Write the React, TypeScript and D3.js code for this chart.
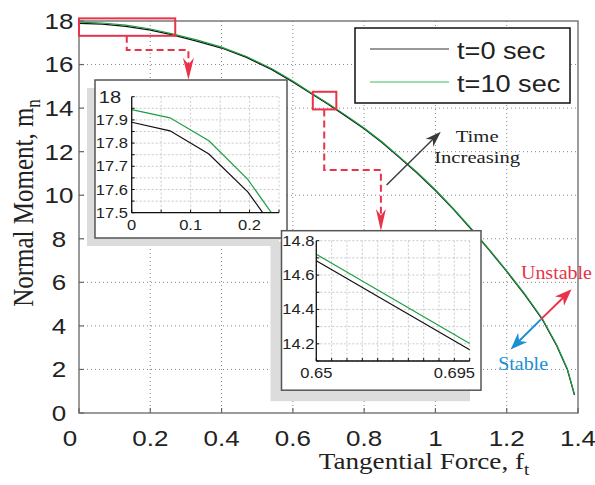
import React from "react";
import * as d3 from "d3";

// ---------- data ----------
const forceF = [0, 0.065, 0.131, 0.197, 0.262, 0.33, 0.4, 0.47, 0.54, 0.6, 0.65, 0.7, 0.75, 0.8, 0.85, 0.9, 0.95, 1.0, 1.05, 1.1, 1.15, 1.2, 1.25, 1.3, 1.34, 1.37, 1.39];
const momentT0 = [17.89, 17.853, 17.753, 17.59, 17.36, 17.08, 16.76, 16.33, 15.78, 15.2, 14.683, 14.165, 13.62, 13.05, 12.42, 11.72, 11.0, 10.22, 9.36, 8.45, 7.5, 6.5, 5.45, 4.3, 3.1, 2.0, 0.83];
const momentT10 = [17.944, 17.909, 17.81, 17.644, 17.41, 17.13, 16.8, 16.37, 15.82, 15.24, 14.721, 14.202, 13.655, 13.085, 12.455, 11.75, 11.03, 10.25, 9.39, 8.48, 7.53, 6.53, 5.48, 4.33, 3.13, 2.03, 0.86];
const seriesNames = ["t=0 sec", "t=10 sec"];

const xTicks = [0, 0.2, 0.4, 0.6, 0.8, 1, 1.2, 1.4];
const xTickLabels = ["0", "0.2", "0.4", "0.6", "0.8", "1", "1.2", "1.4"];
const yTicks = [0, 2, 4, 6, 8, 10, 12, 14, 16, 18];
const yTickLabels = ["0", "2", "4", "6", "8", "10", "12", "14", "16", "18"];

const inset1XTicks = [0, 0.1, 0.2];
const inset1XLabels = ["0", "0.1", "0.2"];
const inset1YTicks = [17.5, 17.6, 17.7, 17.8, 17.9, 18];
const inset1YLabels = ["17.5", "17.6", "17.7", "17.8", "17.9", "18"];
const inset2XTicks = [0.65, 0.695];
const inset2XLabels = ["0.65", "0.695"];
const inset2YTicks = [14.2, 14.4, 14.6, 14.8];
const inset2YLabels = ["14.2", "14.4", "14.6", "14.8"];

// ---------- layout ----------
const W = 595, H = 485;
const SX = 1.18;
const SANS = "'Liberation Sans', Arial, Helvetica, sans-serif";
const SERIF = "'Liberation Serif', 'Times New Roman', serif";
const RED = "#e8334a";
const BLUE = "#1b8fd2";
const GREEN = "#1f9e42";

const x = d3.scaleLinear().domain([0, 1.4]).range([79, 578]);
const y = d3.scaleLinear().domain([0, 18]).range([413, 21]);

function T(p: any) {
  const { x, y, size, family = SANS, anchor = "start", fill = "#222", rot = false, children, dy, sx = SX } = p;
  return (
    <text
      transform={`translate(${x},${y}) scale(${sx},1)${rot ? " rotate(-90)" : ""}`}
      fontSize={size}
      fontFamily={family}
      textAnchor={anchor}
      fill={fill}
      dy={dy}
    >
      {children}
    </text>
  );
}

function arrowHead(x1: number, y1: number, x2: number, y2: number, len: number, wid: number) {
  const dx = x2 - x1, dy = y2 - y1;
  const L = Math.hypot(dx, dy);
  const ux = dx / L, uy = dy / L;
  const px = -uy, py = ux;
  const bx = x2 - ux * len, by = y2 - uy * len;
  const nx = x2 - ux * len * 0.7, ny = y2 - uy * len * 0.7;
  return `M${x2},${y2}L${bx + px * wid / 2},${by + py * wid / 2}L${nx},${ny}L${bx - px * wid / 2},${by - py * wid / 2}Z`;
}

function Arrow({ x1, y1, x2, y2, color, w = 1.5, len = 15, wid = 11, dash }: any) {
  const dx = x2 - x1, dy = y2 - y1;
  const L = Math.hypot(dx, dy);
  const ex = x2 - (dx / L) * len * 0.6, ey = y2 - (dy / L) * len * 0.6;
  return (
    <g>
      <line x1={x1} y1={y1} x2={ex} y2={ey} stroke={color} strokeWidth={w} strokeDasharray={dash} />
      <path d={arrowHead(x1, y1, x2, y2, len, wid)} fill={color} />
    </g>
  );
}

function Inset(p: any) {
  const { id, box, plot, shadow, xd, yd, xGrid, yGrid, xTicks, xLabels, yTicks, yLabels, xLabelY, yLabelX, yAnchor, bigTop } = p;
  const sx = d3.scaleLinear().domain(xd).range([plot.x, plot.x + plot.w]);
  const sy = d3.scaleLinear().domain(yd).range([plot.y + plot.h, plot.y]);
  const line = d3.line<number>().x((_, i) => sx(forceF[i])).y((d) => sy(d));
  return (
    <g>
      <rect x={box.x + shadow[0]} y={box.y + shadow[1]} width={box.w} height={box.h} fill="#dcdcdc" />
      <rect x={box.x} y={box.y} width={box.w} height={box.h} fill="#fff" stroke="#555" strokeWidth={1.5} />
      <clipPath id={id}>
        <rect x={plot.x} y={plot.y} width={plot.w} height={plot.h} />
      </clipPath>
      {xGrid.map((v: number, i: number) => (
        <line key={"gx" + i} x1={sx(v)} x2={sx(v)} y1={plot.y} y2={plot.y + plot.h} stroke="#bbb" strokeWidth={0.8} strokeDasharray="2,2" />
      ))}
      {yGrid.map((v: number, i: number) => (
        <line key={"gy" + i} x1={plot.x} x2={plot.x + plot.w} y1={sy(v)} y2={sy(v)} stroke="#bbb" strokeWidth={0.8} strokeDasharray="2,2" />
      ))}
      <g clipPath={`url(#${id})`}>
        <path d={line(momentT0) || ""} fill="none" stroke="#111" strokeWidth={1.2} />
        <path d={line(momentT10) || ""} fill="none" stroke={GREEN} strokeWidth={1.2} />
      </g>
      <line x1={plot.x} x2={plot.x + plot.w} y1={plot.y + plot.h} y2={plot.y + plot.h} stroke="#111" strokeWidth={1.3} />
      <line x1={plot.x} x2={plot.x} y1={plot.y} y2={plot.y + plot.h} stroke="#111" strokeWidth={1.3} />
      {xGrid.map((v: number, i: number) => (
        <line key={"tx" + i} x1={sx(v)} x2={sx(v)} y1={plot.y + plot.h} y2={plot.y + plot.h - 3} stroke="#111" strokeWidth={1} />
      ))}
      {yGrid.map((v: number, i: number) => (
        <line key={"ty" + i} x1={plot.x} x2={plot.x + 3} y1={sy(v)} y2={sy(v)} stroke="#111" strokeWidth={1} />
      ))}
      {xTicks.map((v: number, i: number) => (
        <T key={"xl" + i} x={sx(v)} y={xLabelY} size={14} anchor="middle">{xLabels[i]}</T>
      ))}
      {yTicks.map((v: number, i: number) => {
        const big = bigTop && i === yTicks.length - 1;
        return (
          <T key={"yl" + i} x={big ? yLabelX - 18 : yLabelX} y={sy(v)} dy="0.36em" size={big ? 17 : 14} anchor={big ? "middle" : yAnchor}>
            {yLabels[i]}
          </T>
        );
      })}
    </g>
  );
}

export default function App() {
  const mainLine = d3.line<number>().x((_, i) => x(forceF[i])).y((d) => y(d));
  const r1 = { f0: 0, f1: 0.27, m0: 17.32, m1: 18.12 };
  const r2 = { f0: 0.656, f1: 0.722, m0: 13.94, m1: 14.75 };
  const conn1 = [[0.134, 17.32], [0.134, 16.67], [0.307, 16.67]];
  const conn1Tip = [0.307, 15.3];
  const conn2 = [[0.688, 13.94], [0.688, 11.16], [0.847, 11.16]];
  const conn2Tip = [0.847, 8.36];
  const connPath = (pts: number[][], tip: number[]) =>
    pts.map((p, i) => `${i ? "L" : "M"}${x(p[0])},${y(p[1])}`).join("") + `L${x(tip[0])},${y(tip[1]) - 12}`;

  return (
    <svg width={W} height={H} style={{ position: "absolute", left: 0, top: 0, background: "#fff" }}>
      <rect width={W} height={H} fill="#fff" />
      {/* grid */}
      {xTicks.slice(1, -1).map((v, i) => (
        <line key={"gx" + i} x1={x(v)} x2={x(v)} y1={y(18)} y2={y(0)} stroke="#888" strokeWidth={1} strokeDasharray="1,3" />
      ))}
      {yTicks.slice(1, -1).map((v, i) => (
        <line key={"gy" + i} x1={x(0)} x2={x(1.4)} y1={y(v)} y2={y(v)} stroke="#888" strokeWidth={1} strokeDasharray="1,3" />
      ))}
      {/* frame */}
      <rect x={x(0)} y={y(18)} width={x(1.4) - x(0)} height={y(0) - y(18)} fill="none" stroke="#666" strokeWidth={1.3} />
      {xTicks.map((v, i) => (
        <line key={"tx" + i} x1={x(v)} x2={x(v)} y1={y(0)} y2={y(0) - 5} stroke="#666" strokeWidth={1.2} />
      ))}
      {yTicks.map((v, i) => (
        <line key={"ty" + i} x1={x(0)} x2={x(0) + 5} y1={y(v)} y2={y(v)} stroke="#666" strokeWidth={1.2} />
      ))}
      {/* tick labels */}
      {xTicks.map((v, i) => (
        <T key={"xl" + i} x={x(v) + (v === 0 ? -9 : 0)} y={446} size={22} anchor="middle">{xTickLabels[i]}</T>
      ))}
      {yTicks.map((v, i) => (
        <T key={"yl" + i} x={59} y={y(v)} dy="0.36em" size={22} anchor="middle">{yTickLabels[i]}</T>
      ))}
      {/* axis labels */}
      <T x={424} y={469} size={23} family={SERIF} anchor="middle">
        Tangential Force, f<tspan fontSize={16} dy={6}>t</tspan>
      </T>
      <T x={33} y={203} size={25} family={SERIF} anchor="middle" rot>
        Normal Moment, m<tspan fontSize={17} dy={6}>n</tspan>
      </T>

      {/* main curves */}
      <path d={mainLine(momentT0) || ""} fill="none" stroke="#111" strokeWidth={1.3} />
      <path d={mainLine(momentT10) || ""} fill="none" stroke={GREEN} strokeWidth={1.2} />

      {/* zoom rectangles */}
      <rect x={x(r1.f0)} y={y(r1.m1)} width={x(r1.f1) - x(r1.f0)} height={y(r1.m0) - y(r1.m1)} fill="none" stroke={RED} strokeWidth={2} />
      <rect x={x(r2.f0)} y={y(r2.m1)} width={x(r2.f1) - x(r2.f0)} height={y(r2.m0) - y(r2.m1)} fill="none" stroke={RED} strokeWidth={2} />

      {/* insets */}
      <Inset
        id="in1"
        box={{ x: 95, y: 80, w: 192, h: 158 }}
        plot={{ x: 131.7, y: 96.7, w: 147.3, h: 116 }}
        shadow={[-8, 8]}
        xd={[0, 0.25]}
        yd={[17.5, 18]}
        xGrid={d3.range(0, 0.2501, 0.05)}
        yGrid={d3.range(17.5, 18.0001, 0.05)}
        xTicks={inset1XTicks}
        xLabels={inset1XLabels}
        yTicks={inset1YTicks}
        yLabels={inset1YLabels}
        xLabelY={230}
        yLabelX={128}
        yAnchor="end"
        bigTop
      />
      <Inset
        id="in2"
        box={{ x: 281.5, y: 230.7, w: 199.5, h: 159.5 }}
        plot={{ x: 316.3, y: 240.7, w: 153.4, h: 120.3 }}
        shadow={[-11, 11]}
        xd={[0.65, 0.7]}
        yd={[14.1, 14.8]}
        xGrid={d3.range(0.65, 0.70001, 0.005)}
        yGrid={d3.range(14.1, 14.8001, 0.1)}
        xTicks={inset2XTicks}
        xLabels={inset2XLabels}
        yTicks={inset2YTicks}
        yLabels={inset2YLabels}
        xLabelY={378}
        yLabelX={314.5}
        yAnchor="end"
      />

      {/* connectors */}
      <path d={connPath(conn1, conn1Tip)} fill="none" stroke={RED} strokeWidth={2} strokeDasharray="7,4" />
      <path d={arrowHead(x(conn1Tip[0]), y(conn1Tip[1]) - 30, x(conn1Tip[0]), y(conn1Tip[1]), 22, 11)} fill={RED} />
      <path d={connPath(conn2, conn2Tip)} fill="none" stroke={RED} strokeWidth={2} strokeDasharray="7,4" />
      <path d={arrowHead(x(conn2Tip[0]), y(conn2Tip[1]) - 30, x(conn2Tip[0]), y(conn2Tip[1]), 22, 10)} fill={RED} />

      {/* time arrow */}
      <Arrow x1={x(0.863)} y1={y(10.47)} x2={x(1.015)} y2={y(12.92)} color="#3a3a3a" w={1.4} len={16} wid={11} />
      <T x={x(1.117)} y={y(12.44)} size={17.5} family={SERIF} anchor="middle" fill="#222">Time</T>
      <T x={x(1.117)} y={y(11.49)} size={17.5} family={SERIF} anchor="middle" fill="#222">Increasing</T>

      {/* stability arrows */}
      <Arrow x1={x(1.296)} y1={y(4.3)} x2={x(1.382)} y2={y(5.68)} color={RED} w={2} len={17} wid={13} />
      <Arrow x1={x(1.296)} y1={y(4.3)} x2={x(1.211)} y2={y(2.92)} color={BLUE} w={2} len={17} wid={13} />
      <T x={521} y={y(6.14)} size={19} sx={1.05} family={SERIF} fill={RED}>Unstable</T>
      <T x={x(1.176)} y={y(1.97)} size={19} sx={1.05} family={SERIF} fill={BLUE}>Stable</T>

      {/* legend */}
      <rect x={355} y={28} width={215} height={75} fill="#fff" stroke="#111" strokeWidth={1.5} />
      <line x1={370} x2={449} y1={49} y2={49} stroke="#333" strokeWidth={1.2} />
      <line x1={370} x2={449} y1={82} y2={82} stroke="#3cbf5a" strokeWidth={1.2} />
      <T x={457} y={59} size={23}>{seriesNames[0]}</T>
      <T x={457} y={91.5} size={23}>{seriesNames[1]}</T>
    </svg>
  );
}
